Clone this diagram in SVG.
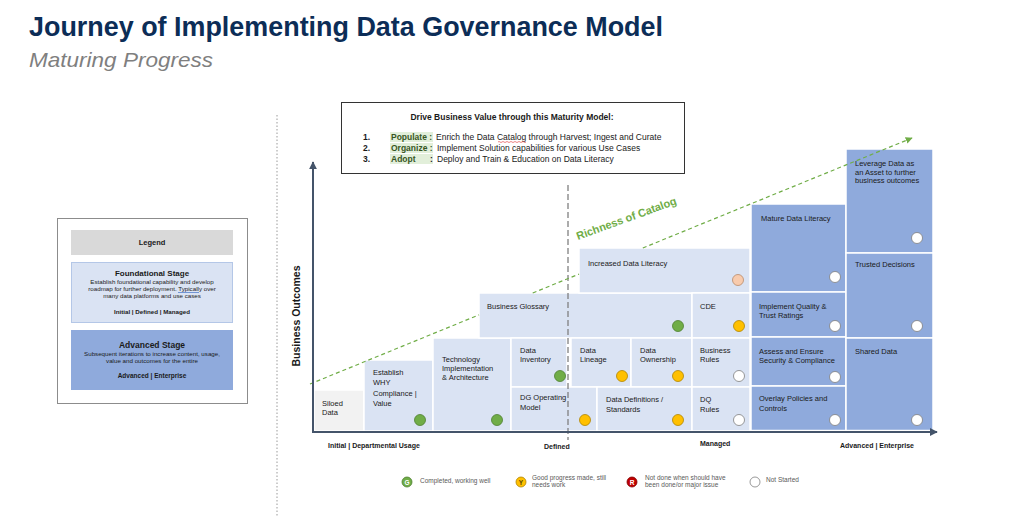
<svg xmlns="http://www.w3.org/2000/svg" width="1010" height="516" viewBox="0 0 1010 516">
<style>
  text { font-family: "Liberation Sans", Arial, sans-serif; fill: #1a1a1a; }
  .b { font-weight: bold; }
  .lt { fill: #dae3f3; stroke: #ffffff; stroke-width: 1.5; }
  .dk { fill: #8faadc; stroke: #ffffff; stroke-width: 1.5; }
  .sl { fill: #f2f2f2; stroke: #ffffff; stroke-width: 1.5; }
  .bt { font-size: 7.5px; }
  .g { fill: #70ad47; stroke: #4e7f30; stroke-width: 0.8; }
  .y { fill: #ffc000; stroke: #b08400; stroke-width: 0.8; }
  .w { fill: #ffffff; stroke: #7f7f7f; stroke-width: 0.8; }
  .p { fill: #f8cbad; stroke: #b88a6a; stroke-width: 0.8; }
  .lg { font-size: 6.2px; }
  .tb { font-size: 8.5px; }
  .ax { stroke: #44546a; stroke-width: 2; fill: none; }
  .al { font-size: 7px; font-weight: bold; }
  .kl { font-size: 6.5px; fill: #595959; }
</style>
<defs>
  <marker id="axarrow" viewBox="0 0 10 10" refX="9" refY="5" markerWidth="4" markerHeight="4" orient="auto">
    <path d="M0,0 L10,5 L0,10 z" fill="#44546a"/>
  </marker>
  <marker id="grarrow" viewBox="0 0 10 10" refX="9" refY="5" markerWidth="7" markerHeight="7" orient="auto" markerUnits="userSpaceOnUse">
    <path d="M0,0 L10,5 L0,10 z" fill="#70ad47"/>
  </marker>
</defs>
<rect x="0" y="0" width="1010" height="516" fill="#ffffff"/>

<g id="title">
  <text x="29" y="36" class="b" font-size="28" style="fill:#0c2d57" textLength="634" lengthAdjust="spacingAndGlyphs">Journey of Implementing Data Governance Model</text>
  <text x="29" y="67" font-size="21" font-style="italic" style="fill:#7f7f7f" textLength="184" lengthAdjust="spacingAndGlyphs">Maturing Progress</text>
</g>

<line x1="277" y1="115" x2="277" y2="516" stroke="#9a9a9a" stroke-width="1" stroke-dasharray="1.5,2"/>

<g id="legend">
  <rect x="57.5" y="218.5" width="190" height="185" fill="#ffffff" stroke="#8c8c8c" stroke-width="1"/>
  <rect x="71" y="230" width="162" height="25" fill="#d9d9d9"/>
  <text x="152" y="245" class="b" font-size="7.5" text-anchor="middle">Legend</text>
  <rect x="71.5" y="262.5" width="161" height="60" fill="#dae3f3" stroke="#b4c7e7" stroke-width="1"/>
  <text x="152" y="276" class="b" font-size="8" text-anchor="middle">Foundational Stage</text>
  <text x="152" y="284" class="lg" text-anchor="middle">Establish foundational capability and develop</text>
  <text x="152" y="291" class="lg" text-anchor="middle">roadmap for further deployment. Typically over</text>
  <text x="152" y="298" class="lg" text-anchor="middle">many data platforms and use cases</text>
  <line x1="178" y1="292.5" x2="199" y2="292.5" stroke="#4472c4" stroke-width="0.7"/>
  <text x="152" y="314" class="b" font-size="6.2" text-anchor="middle">Initial | Defined | Managed</text>
  <rect x="71" y="330" width="162" height="60" fill="#8faadc"/>
  <text x="152" y="348" class="b" font-size="8.5" text-anchor="middle">Advanced Stage</text>
  <text x="152" y="356" class="lg" text-anchor="middle">Subsequent iterations to increase content, usage,</text>
  <text x="152" y="363" class="lg" text-anchor="middle">value and outcomes for the entire</text>
  <text x="152" y="378" class="b" font-size="6.5" text-anchor="middle">Advanced | Enterprise</text>
</g>

<g id="maturity-box">
  <rect x="341.5" y="102.5" width="343" height="71" fill="#ffffff" stroke="#333333" stroke-width="1"/>
  <text x="512" y="120" class="b" font-size="8.5" text-anchor="middle">Drive Business Value through this Maturity Model:</text>
  <rect x="390" y="132" width="43" height="10" fill="#e2efda"/>
  <rect x="390" y="143" width="43" height="10" fill="#e2efda"/>
  <rect x="390" y="154" width="43" height="10" fill="#e2efda"/>
  <text x="363" y="140" class="tb b">1.</text>
  <text x="391" y="140" class="tb b" style="fill:#375623">Populate :</text>
  <text x="436" y="140" class="tb">Enrich the Data Catalog through Harvest; Ingest and Curate</text>
  <path d="M498,142 q1,-1 2,0 t2,0 t2,0 t2,0 t2,0 t2,0 t2,0 t2,0 t2,0 t2,0 t2,0 t2,0 t2,0 t2,0" fill="none" stroke="#e03030" stroke-width="0.6"/>
  <text x="363" y="151" class="tb b">2.</text>
  <text x="391" y="151" class="tb b" style="fill:#375623">Organize :</text>
  <text x="437" y="151" class="tb">Implement Solution capabilities for various Use Cases</text>
  <text x="363" y="162" class="tb b">3.</text>
  <text x="391" y="162" class="tb b" style="fill:#375623">Adopt</text>
  <text x="430" y="162" class="tb b">:</text>
  <text x="437" y="162" class="tb">Deploy and Train &amp; Education on Data Literacy</text>
</g>

<g id="node-siloed"><rect class="sl" x="314" y="390" width="50" height="41"/><text class="bt" x="322" y="406">Siloed</text><text class="bt" x="322" y="415">Data</text></g>
<g id="node-establish"><rect class="lt" x="364" y="360" width="69" height="71"/><text class="bt" x="373" y="375">Establish</text><text class="bt" x="373" y="385">WHY</text><text class="bt" x="373" y="396">Compliance |</text><text class="bt" x="373" y="406">Value</text><circle class="g" cx="420" cy="420" r="5.5"/></g>
<g id="node-technology"><rect class="lt" x="433" y="338" width="78" height="93"/><text class="bt" x="442" y="362">Technology</text><text class="bt" x="442" y="371">Implementation</text><text class="bt" x="442" y="380">&amp; Architecture</text><circle class="g" cx="497" cy="420" r="5.5"/></g>
<g id="node-glossary"><rect class="lt" x="479" y="293" width="213" height="45"/><text class="bt" x="487" y="309">Business Glossary</text><circle class="g" cx="678" cy="326" r="5.5"/></g>
<g id="node-literacy"><rect class="lt" x="579" y="248" width="171" height="45"/><text class="bt" x="588" y="266">Increased Data Literacy</text><circle class="p" cx="738" cy="280" r="5.5"/></g>
<g id="node-cde"><rect class="lt" x="692" y="293" width="58" height="45"/><text class="bt" x="700" y="309">CDE</text><circle class="y" cx="739" cy="326" r="5.5"/></g>
<g id="node-inventory"><rect class="lt" x="511" y="338" width="56" height="49"/><text class="bt" x="520" y="353">Data</text><text class="bt" x="520" y="362">Inventory</text><circle class="g" cx="560" cy="376" r="5.5"/></g>
<g id="node-lineage"><rect class="lt" x="571" y="338" width="60" height="49"/><text class="bt" x="580" y="353">Data</text><text class="bt" x="580" y="362">Lineage</text><circle class="y" cx="622" cy="376" r="5.5"/></g>
<g id="node-ownership"><rect class="lt" x="631" y="338" width="61" height="49"/><text class="bt" x="640" y="353">Data</text><text class="bt" x="640" y="362">Ownership</text><circle class="y" cx="678" cy="376" r="5.5"/></g>
<g id="node-business-rules"><rect class="lt" x="692" y="338" width="58" height="49"/><text class="bt" x="700" y="353">Business</text><text class="bt" x="700" y="362">Rules</text><circle class="w" cx="739" cy="376" r="5.5"/></g>
<g id="node-dg-operating"><rect class="lt" x="511" y="387" width="86" height="44"/><text class="bt" x="520" y="400">DG Operating</text><text class="bt" x="520" y="410">Model</text><circle class="y" cx="585" cy="420" r="5.5"/></g>
<g id="node-definitions"><rect class="lt" x="597" y="387" width="95" height="44"/><text class="bt" x="606" y="402">Data Definitions /</text><text class="bt" x="606" y="412">Standards</text><circle class="y" cx="678" cy="420" r="5.5"/></g>
<g id="node-dq-rules"><rect class="lt" x="692" y="387" width="58" height="44"/><text class="bt" x="700" y="402">DQ</text><text class="bt" x="700" y="412">Rules</text><circle class="w" cx="739" cy="420" r="5.5"/></g>
<g id="node-mature"><rect class="dk" x="751" y="204" width="95" height="88"/><text class="bt" x="761" y="221">Mature Data Literacy</text><circle class="w" cx="835" cy="277" r="5.5"/></g>
<g id="node-quality"><rect class="dk" x="751" y="292" width="95" height="45"/><text class="bt" x="759" y="309">Implement Quality &amp;</text><text class="bt" x="759" y="318">Trust Ratings</text><circle class="w" cx="835" cy="326" r="5.5"/></g>
<g id="node-security"><rect class="dk" x="751" y="337" width="95" height="49"/><text class="bt" x="759" y="354">Assess and Ensure</text><text class="bt" x="759" y="363">Security &amp; Compliance</text><circle class="w" cx="835" cy="377" r="5.5"/></g>
<g id="node-overlay"><rect class="dk" x="751" y="386" width="95" height="44.5"/><text class="bt" x="759" y="401">Overlay Policies and</text><text class="bt" x="759" y="411">Controls</text><circle class="w" cx="835" cy="420" r="5.5"/></g>
<g id="node-leverage"><rect class="dk" x="846" y="149" width="87" height="104"/><text class="bt" x="855" y="166">Leverage Data as</text><text class="bt" x="855" y="175">an Asset to further</text><text class="bt" x="855" y="183">business outcomes</text><circle class="w" cx="917" cy="238" r="5.5"/></g>
<g id="node-trusted"><rect class="dk" x="846" y="253" width="87" height="85"/><text class="bt" x="855" y="267">Trusted Decisions</text><circle class="w" cx="917" cy="326" r="5.5"/></g>
<g id="node-shared"><rect class="dk" x="846" y="338" width="87" height="92.5"/><text class="bt" x="855" y="354">Shared Data</text><circle class="w" cx="917" cy="420" r="5.5"/></g>

<g id="connectors">
  <line x1="568" y1="185" x2="568" y2="440" stroke="#808080" stroke-width="1.3" stroke-dasharray="6,3"/>
  <path d="M310,384 L479,314.9 M532.7,293 L579,274.1 M642.8,248 L912,138" fill="none" stroke="#70ad47" stroke-width="1.2" stroke-dasharray="4,3" marker-end="url(#grarrow)"/>
  <line class="ax" x1="313" y1="432" x2="313" y2="162" marker-end="url(#axarrow)"/>
  <line class="ax" x1="312" y1="432" x2="937" y2="432" marker-end="url(#axarrow)"/>
</g>

<g id="labels">
  <text x="578" y="240" class="b" font-size="11" style="fill:#70ad47" transform="rotate(-20 578 240)">Richness of Catalog</text>
  <text x="0" y="0" class="b" font-size="10.5" text-anchor="middle" transform="translate(300 316) rotate(-90)">Business Outcomes</text>
  <text x="328" y="448" class="al">Initial | Departmental Usage</text>
  <text x="544" y="449" class="al">Defined</text>
  <text x="700" y="446" class="al">Managed</text>
  <text x="840" y="448" class="al">Advanced | Enterprise</text>
</g>

<g id="status-key">
  <circle cx="407" cy="482" r="5" fill="#70ad47" stroke="#4e7f30" stroke-width="0.8"/>
  <text x="407" y="484.5" font-size="6.5" class="b" text-anchor="middle" style="fill:#ffffff">G</text>
  <text x="420" y="483" class="kl">Completed, working well</text>
  <circle cx="521" cy="482" r="5" fill="#ffc000" stroke="#b08400" stroke-width="0.8"/>
  <text x="521" y="484.5" font-size="6.5" class="b" text-anchor="middle" style="fill:#5a4500">Y</text>
  <text x="532" y="480" class="kl">Good progress made, still</text>
  <text x="532" y="487" class="kl">needs work</text>
  <circle cx="632" cy="482" r="5" fill="#c00000" stroke="#800000" stroke-width="0.8"/>
  <text x="632" y="484.5" font-size="6.5" class="b" text-anchor="middle" style="fill:#ffffff">R</text>
  <text x="645" y="480" class="kl">Not done when should have</text>
  <text x="645" y="487" class="kl">been done/or major issue</text>
  <circle cx="755" cy="482" r="5" fill="#ffffff" stroke="#7f7f7f" stroke-width="0.8"/>
  <text x="766" y="482" class="kl">Not Started</text>
</g>
</svg>
